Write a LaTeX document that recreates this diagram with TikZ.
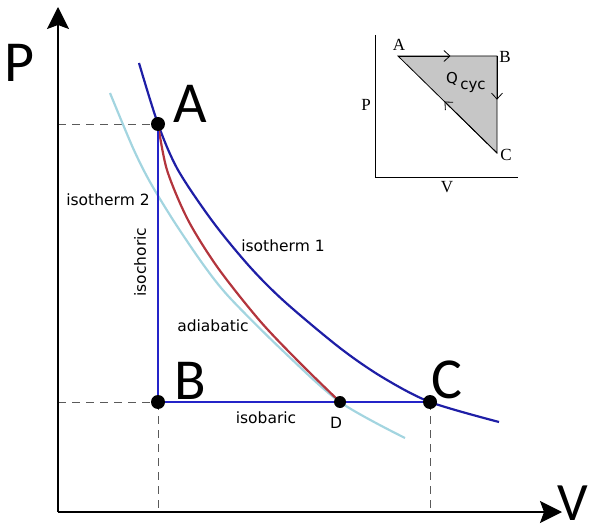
\documentclass[tikz,border=0pt]{standalone}
\usepackage{fontspec}
\setmainfont{DejaVu Sans}
\newfontfamily\bigfont{Carlito}
\newfontfamily\insetfont{Liberation Serif}
\usetikzlibrary{arrows.meta,calc,positioning}
\definecolor{Iso}{HTML}{1E1EA6}
\definecolor{Leg}{HTML}{2424C8}
\definecolor{Sky}{HTML}{A3D5E0}
\definecolor{Adia}{HTML}{B3353D}
\definecolor{Guide}{HTML}{5A5A5A}
\definecolor{Shade}{HTML}{C6C6C6}

\begin{document}
\begin{tikzpicture}[x=1pt,y=-1pt,node distance=0pt,
    dot/.style={circle,fill=black,inner sep=0pt,minimum size=14pt},
    big/.style={inner sep=0pt,font=\bigfont\fontsize{58}{58}\selectfont},
    lbl/.style={inner sep=0pt,font=\fontsize{15.5}{15.5}\selectfont},
    small/.style={inner sep=0pt,font=\insetfont\fontsize{17}{17}\selectfont},
    guide/.style={Guide,line width=0.8pt,dash pattern=on 8pt off 6pt},
    curve/.style={line width=2.2pt,smooth,tension=0.5},
    axis/.style={line width=1.8pt,-{Stealth[length=22pt,width=22pt,inset=4pt]}},
    flow/.style={line width=0.8pt,-{Straight Barb[length=6pt,width=11pt]}}]
  \useasboundingbox (0,0) rectangle (594,529);

  % state points
  \coordinate (pA) at (158,124);
  \coordinate (pB) at (158,402);
  \coordinate (pC) at (430,402);
  \coordinate (pD) at (340,402);
  \coordinate (O) at (58,512);
  \coordinate (Ptop) at (58,7);
  \coordinate (Vend) at (562,512);

  % guides to the axes
  \draw[guide] (O |- pA) -- (pA);
  \draw[guide] (O |- pB) -- (pB);
  \draw[guide] (pB) -- (pB |- O);
  \draw[guide] (pC) -- (pC |- O);

  % axes
  \draw[axis] (O) -- (Ptop);
  \draw[axis] (O) -- (Vend);
  \node[big] (P) at (19,63) {P};
  \node[big,font=\bigfont\fontsize{54}{54}\selectfont] (V) at (573,503) {V};

  % isotherms and adiabat
  \draw[Sky,curve] plot coordinates
    {(110,93) (133,148) (150,182) (175,223) (205,267) (230,298) (282,350) (pD) (405,438)};
  \draw[Iso,curve] plot coordinates
    {(139,63) (pA) (178,170) (213,222) (250,267) (285,302) (340,348) (382,377) (pC) (499,422)};
  \draw[Adia,curve] plot coordinates
    {(pA) (167,170) (188,220) (218,268) (260,321) (300,363) (pD)};

  % isochoric and isobaric legs
  \draw[Leg,line width=2.4pt] (pA) -- (pB) -- (pC);

  \node[dot] (A) at (pA) {};
  \node[dot] (B) at (pB) {};
  \node[dot] (C) at (pC) {};
  \node[dot,minimum size=12pt] (D) at (pD) {};

  \node[big] (lA) at (190,104) {A};
  \node[big] (lB) at (190,381) {B};
  \node[big] (lC) at (447,380) {C};
  \node[lbl] (lD) at (336,423) {D};

  \node[lbl] (iso1) at (283,246) {isotherm 1};
  \node[lbl] (iso2) at (108,200) {isotherm 2};
  \node[lbl,rotate=90] (chor) at (140,262) {isochoric};
  \node[lbl] (adia) at (213,326) {adiabatic};
  \node[lbl] (bar) at (266,418) {isobaric};

  % inset cycle
  \coordinate (iO) at (375,177);
  \coordinate (iA) at (398,56);
  \coordinate (iB) at (497,56);
  \coordinate (iC) at (497,153);
  \draw[line width=0.9pt] (iO |- 0,35) -- (iO) -- (518,177);
  \draw[line width=0.8pt,fill=Shade] (iA) -- (iB) -- (iC) -- cycle;
  \draw[flow] (iA) -- ($(iA)!0.53!(iB)$);
  \draw[flow] (iB) -- ($(iB)!0.45!(iC)$);
  \draw[flow] (iC) -- ($(iC)!0.53!(iA)$);
  \node[small] (iLA) at (399,45) {A};
  \node[small] (iLB) at (505,57) {B};
  \node[small] (iLC) at (506,155) {C};
  \node[small] (iLP) at (366,105) {P};
  \node[small] (iLV) at (447,187) {V};
  \node[inner sep=0pt,font=\fontsize{15}{15}\selectfont] (q) at (452,79) {Q};
  \node[inner sep=0pt,font=\fontsize{15}{15}\selectfont,right=2pt of q,yshift=-8pt] (cyc) {cyc};
\end{tikzpicture}
\end{document}
